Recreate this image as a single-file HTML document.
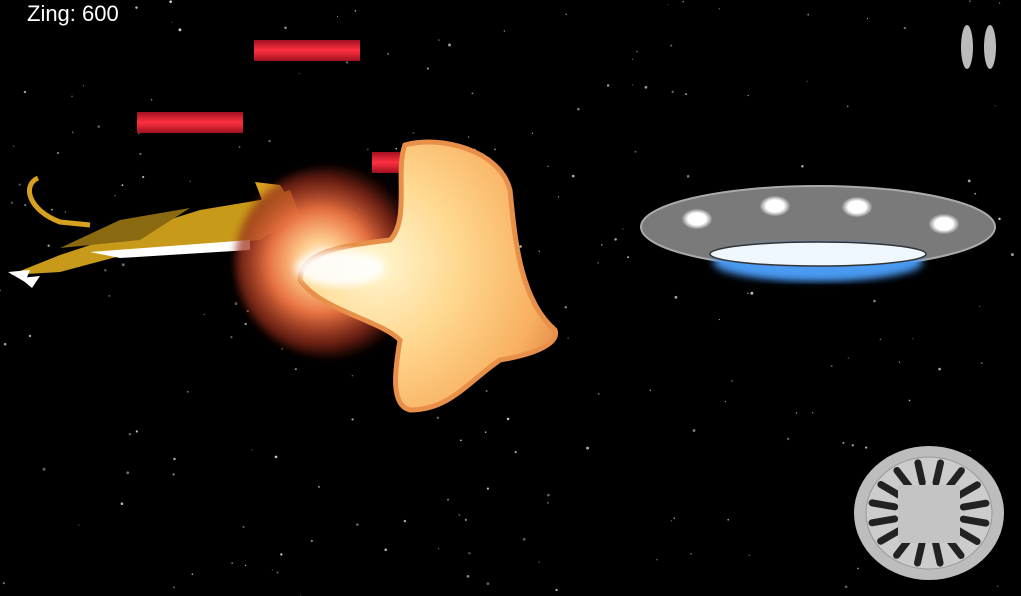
<!DOCTYPE html>
<html><head><meta charset="utf-8"><style>
html,body{margin:0;padding:0;background:#000;width:1021px;height:596px;overflow:hidden}
#score{position:absolute;left:27px;top:1px;font:22px "Liberation Sans",sans-serif;color:#fff}
</style></head><body>
<svg width="1021" height="596" style="position:absolute;left:0;top:0">
<defs>
<radialGradient id="fire" cx="0.45" cy="0.5" r="0.55">
<stop offset="0" stop-color="#fff"/><stop offset="0.2" stop-color="#ffd090"/><stop offset="0.5" stop-color="#e87040"/><stop offset="0.8" stop-color="#902818" stop-opacity="0.7"/><stop offset="1" stop-color="#401008" stop-opacity="0"/></radialGradient>
<radialGradient id="blob" cx="0.3" cy="0.45" r="0.8"><stop offset="0" stop-color="#fff6d0"/><stop offset="0.4" stop-color="#ffd890"/><stop offset="0.8" stop-color="#f8b060"/><stop offset="1" stop-color="#e08848"/></radialGradient>
<linearGradient id="laser" x1="0" y1="0" x2="0" y2="1"><stop offset="0" stop-color="#a01020"/><stop offset="0.5" stop-color="#ff3040"/><stop offset="1" stop-color="#a01020"/></linearGradient>
<radialGradient id="light"><stop offset="0" stop-color="#fff"/><stop offset="0.6" stop-color="#fff"/><stop offset="1" stop-color="#888"/></radialGradient>
<radialGradient id="ufoblue" cx="0.5" cy="0.3" r="0.6"><stop offset="0" stop-color="#7cc0ff"/><stop offset="0.6" stop-color="#3a88e8"/><stop offset="1" stop-color="#204080" stop-opacity="0"/></radialGradient>
<filter id="blur"><feGaussianBlur stdDeviation="4"/></filter>
</defs>
<g id="stars"></g>
<rect x="254" y="40" width="106" height="21" fill="url(#laser)"/>
<rect x="137" y="112" width="106" height="21" fill="url(#laser)"/>
<rect x="372" y="152" width="106" height="21" fill="url(#laser)"/>
<g>
<path d="M38,178 C22,185 28,210 60,222 L90,225" stroke="#d8a020" stroke-width="5" fill="none"/>
<path d="M10,275 L60,255 L130,232 L200,210 L260,200 L290,190 L300,215 L260,240 L150,248 L60,272 Z" fill="#c89a1a"/>
<path d="M60,248 L120,220 L190,208 L140,240 Z" fill="#8a6a10"/>
<path d="M90,252 L250,240 L250,250 L120,258 Z" fill="#fff"/>
<path d="M8,272 L30,270 L25,282 Z M20,278 L40,276 L32,288 Z" fill="#fff"/>
<path d="M255,182 L280,185 L290,200 L262,200 Z" fill="#d8a020"/>
</g>
<ellipse cx="330" cy="262" rx="95" ry="95" fill="url(#fire)" filter="url(#blur)"/>
<path d="M405,145 C440,135 500,150 510,190 C515,240 520,300 555,330 C560,345 530,355 500,360 C470,380 450,410 410,410 C390,405 395,370 400,340 C380,320 320,310 300,280 C300,250 350,245 390,240 C410,220 395,170 405,145 Z" fill="url(#blob)" stroke="#e8904a" stroke-width="5"/>
<ellipse cx="340" cy="268" rx="45" ry="18" fill="#fff" opacity="0.9" filter="url(#blur)"/>
<g>
<ellipse cx="818" cy="268" rx="100" ry="20" fill="url(#ufoblue)" filter="url(#blur)"/>
<ellipse cx="818" cy="227" rx="177" ry="41" fill="#7a7a7a" stroke="#aaa" stroke-width="2"/>
<ellipse cx="818" cy="262" rx="105" ry="18" fill="#4a9af0" filter="url(#blur)"/>
<ellipse cx="818" cy="254" rx="108" ry="12" fill="#f0f8ff" stroke="#333" stroke-width="1.5"/>
<ellipse cx="697" cy="219" rx="15" ry="10" fill="url(#light)"/>
<ellipse cx="775" cy="206" rx="15" ry="10" fill="url(#light)"/>
<ellipse cx="857" cy="207" rx="15" ry="10" fill="url(#light)"/>
<ellipse cx="944" cy="224" rx="15" ry="10" fill="url(#light)"/>
</g>
<g>
<ellipse cx="967" cy="47" rx="6" ry="22" fill="#bbb"/>
<ellipse cx="990" cy="47" rx="6" ry="22" fill="#bbb"/>
</g>
<g>
<ellipse cx="929" cy="513" rx="75" ry="67" fill="#bdbdbd"/>
<ellipse cx="929" cy="513" rx="63" ry="56" fill="#ccc" stroke="#999" stroke-width="1"/>
<g id="spokes" stroke="#222" stroke-width="7" stroke-linecap="round"></g>
<rect x="898" y="485" width="62" height="58" fill="#c4c4c4"/>
</g>
</svg>
<div id="score">Zing: 600</div>
<script>
const sg=document.getElementById('stars');
let s=7;function r(){s=(s*9301+49297)%233280;return s/233280;}
for(let i=0;i<220;i++){const c=document.createElementNS('http://www.w3.org/2000/svg','circle');


c.setAttribute('cx',r()*1021);c.setAttribute('cy',r()*596);c.setAttribute('r',0.5+r()*1);c.setAttribute('fill','#ccc');c.setAttribute('opacity',0.4+r()*0.6);sg.appendChild(c);}
const sp=document.getElementById('spokes');
for(let i=0;i<16;i++){const a=i/16*Math.PI*2+0.2;const l=document.createElementNS('http://www.w3.org/2000/svg','line');


l.setAttribute('x1',929+Math.cos(a)*35);l.setAttribute('y1',513+Math.sin(a)*31);l.setAttribute('x2',929+Math.cos(a)*58);l.setAttribute('y2',513+Math.sin(a)*51);sp.appendChild(l);}
</script>
</body></html>
